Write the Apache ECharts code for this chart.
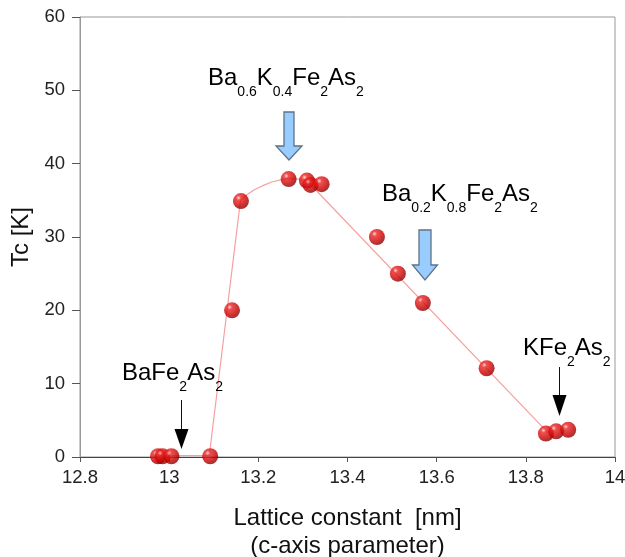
<!DOCTYPE html>
<html>
<head>
<meta charset="utf-8">
<script src="https://cdn.jsdelivr.net/npm/echarts@6/dist/echarts.min.js"></script>
<style>html,body{margin:0;padding:0;background:#fff}#c{width:625px;height:557px}</style>
</head>
<body>
<div id="c"></div>
<script>
// Measured data: c-axis lattice constant [nm] and Tc [K]
const latticeC = [12.975, 12.985, 13.005, 13.092, 13.141, 13.161, 13.268, 13.309, 13.317, 13.342, 13.466, 13.513, 13.569, 13.712, 13.845, 13.868, 13.895];
const tcValues = [0.1, 0.1, 0.1, 0.1, 20.0, 34.9, 37.9, 37.7, 37.1, 37.2, 30.0, 25.0, 21.0, 12.1, 3.2, 3.5, 3.7];
// Guide-to-the-eye trend line
const trendC  = [13.005, 13.09, 13.16, 13.175, 13.19, 13.21, 13.23, 13.25, 13.27, 13.29, 13.31, 13.85];
const trendTc = [0.2, 0.2, 35.0, 35.8, 36.4, 37.0, 37.5, 37.8, 38.0, 37.9, 37.6, 3.3];
const xTicks = ['12.8', '13', '13.2', '13.4', '13.6', '13.8', '14'];
const yTicks = ['0', '10', '20', '30', '40', '50', '60'];

const FONT = '"Liberation Sans", Arial, sans-serif';
const chart = echarts.init(document.getElementById('c'), null, {renderer: 'canvas'});

const sphere = new echarts.graphic.RadialGradient(0.35, 0.3, 0.75, [
  {offset: 0, color: '#ffcccc'},
  {offset: 0.2, color: '#ea2525'},
  {offset: 0.65, color: '#c80000'},
  {offset: 1, color: '#800000'}
]);

const rich = {
  m: {fontSize: 24, lineHeight: 24, fontFamily: FONT, color: '#111', verticalAlign: 'top'},
  s: {fontSize: 14, lineHeight: 14, fontFamily: FONT, color: '#111', verticalAlign: 'top', padding: [19, 0, 0, 0]}
};
function label(x, y, text) {
  return {type: 'text', x: x, y: y, z: 100,
    style: {text: text, rich: rich, verticalAlign: 'top', align: 'left', font: '24px ' + FONT}};
}
function blueArrow(cx, top, headTop, tip, sh, hh) {
  return {type: 'polygon', z: 90,
    shape: {points: [[cx - sh, top], [cx + sh, top], [cx + sh, headTop], [cx + hh, headTop], [cx, tip], [cx - hh, headTop], [cx - sh, headTop]]},
    style: {fill: '#99ccff', stroke: '#5f7385', lineWidth: 1.3}};
}
function blackArrow(cx, top, headTop, tip, hh) {
  return [
    {type: 'line', z: 90, shape: {x1: cx, y1: top, x2: cx, y2: headTop}, style: {stroke: '#111', lineWidth: 1}},
    {type: 'polygon', z: 90, shape: {points: [[cx - hh, headTop], [cx + hh, headTop], [cx, tip]]}, style: {fill: '#000'}}
  ];
}

const option = {
  backgroundColor: '#fff',
  animation: false,
  grid: {left: 80, right: 10, top: 17, bottom: 100, outerBoundsMode: 'none', containLabel: false,
    show: true, borderColor: '#999', borderWidth: 1},
  xAxis: [{
    type: 'value', min: 12.8, max: 14, interval: 0.2, position: 'bottom',
    axisLine: {show: true, onZero: false, lineStyle: {color: '#555', width: 1}},
    axisTick: {show: true, length: 5, lineStyle: {color: '#555'}},
    axisLabel: {fontSize: 18.5, fontFamily: FONT, color: '#222', margin: 11,
      formatter: (v) => xTicks[Math.round((v - 12.8) / 0.2)]},
    splitLine: {show: false},
    name: 'Lattice constant  [nm]\n(c-axis parameter)', nameLocation: 'middle', nameGap: 47,
    nameTextStyle: {fontSize: 24, lineHeight: 28, fontFamily: FONT, color: '#111'}
  }, {
    type: 'value', min: 12.8, max: 14, position: 'top',
    axisLine: {show: true, lineStyle: {color: '#444'}}, axisTick: {show: false}, axisLabel: {show: false}, splitLine: {show: false}
  }],
  yAxis: {
    type: 'value', min: 0, max: 60, interval: 10,
    axisLine: {show: true, lineStyle: {color: '#999', width: 1}},
    axisTick: {show: true, length: 8, lineStyle: {color: '#555'}},
    axisLabel: {fontSize: 18.5, fontFamily: FONT, color: '#222', margin: 15,
      formatter: (v) => yTicks[Math.round(v / 10)]},
    splitLine: {show: false},
    name: 'Tc [K]', nameLocation: 'middle', nameGap: 46, nameRotate: 90,
    nameTextStyle: {fontSize: 24, fontFamily: FONT, color: '#111'}
  },
  series: [{
    type: 'line', xAxisIndex: 0, data: trendC.map((c, i) => [c, trendTc[i]]),
    showSymbol: false, smooth: false, lineStyle: {color: '#f5a0a0', width: 1.2}, z: 1, silent: true
  }, {
    type: 'scatter', xAxisIndex: 0, data: latticeC.map((c, i) => [c, tcValues[i]]),
    symbol: 'circle', symbolSize: 16, itemStyle: {color: sphere}, z: 5
  }],
  graphic: [
    label(208, 66, '{m|Ba}{s|0.6}{m|K}{s|0.4}{m|Fe}{s|2}{m|As}{s|2}'),
    blueArrow(289, 112, 146, 160, 5, 13),
    label(382, 182, '{m|Ba}{s|0.2}{m|K}{s|0.8}{m|Fe}{s|2}{m|As}{s|2}'),
    blueArrow(425, 230, 265, 280, 6, 12.5),
    label(122, 361, '{m|BaFe}{s|2}{m|As}{s|2}'),
    ...blackArrow(181.5, 400, 429, 449, 7),
    label(523, 336, '{m|KFe}{s|2}{m|As}{s|2}'),
    ...blackArrow(559.5, 367, 395, 416, 7)
  ]
};
chart.setOption(option);
</script>
</body>
</html>
